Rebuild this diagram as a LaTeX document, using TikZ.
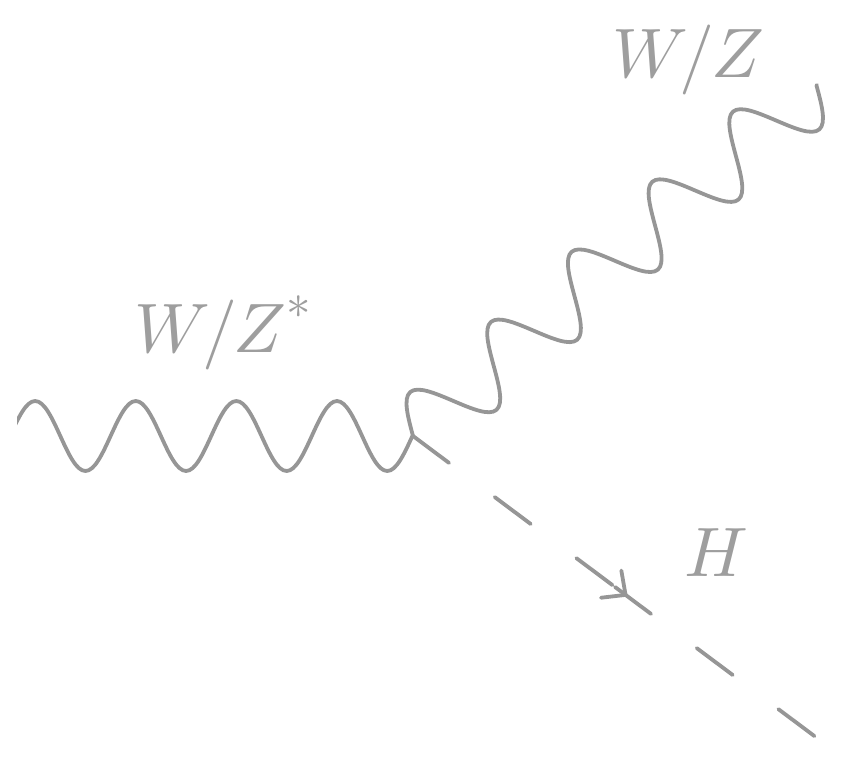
\documentclass[tikz,border=0pt]{standalone}
\usetikzlibrary{decorations,decorations.markings,arrows.meta}
\DeclareFontShape{OML}{cmm}{m}{it}{<->cmmi10}{}
\DeclareFontShape{OT1}{cmr}{m}{n}{<->cmr10}{}
\DeclareFontShape{OMS}{cmsy}{m}{n}{<->cmsy10}{}
\definecolor{lc}{RGB}{150,150,150}
\definecolor{tc}{RGB}{158,158,158}
\pgfdeclaredecoration{sinewave}{initial}{%
  \state{initial}[width=\pgfdecorationsegmentlength]{%
    \pgfpathlineto{\pgfpointorigin}%
    \pgfpathcurveto{\pgfpoint{.08152\pgfdecorationsegmentlength}{.5122\pgfdecorationsegmentamplitude}}%
                   {\pgfpoint{.15915\pgfdecorationsegmentlength}{\pgfdecorationsegmentamplitude}}%
                   {\pgfpoint{.25\pgfdecorationsegmentlength}{\pgfdecorationsegmentamplitude}}%
    \pgfpathcurveto{\pgfpoint{.34085\pgfdecorationsegmentlength}{\pgfdecorationsegmentamplitude}}%
                   {\pgfpoint{.41848\pgfdecorationsegmentlength}{.5122\pgfdecorationsegmentamplitude}}%
                   {\pgfpoint{.5\pgfdecorationsegmentlength}{0pt}}%
    \pgfpathcurveto{\pgfpoint{.58152\pgfdecorationsegmentlength}{-.5122\pgfdecorationsegmentamplitude}}%
                   {\pgfpoint{.65915\pgfdecorationsegmentlength}{-\pgfdecorationsegmentamplitude}}%
                   {\pgfpoint{.75\pgfdecorationsegmentlength}{-\pgfdecorationsegmentamplitude}}%
    \pgfpathcurveto{\pgfpoint{.84085\pgfdecorationsegmentlength}{-\pgfdecorationsegmentamplitude}}%
                   {\pgfpoint{.91848\pgfdecorationsegmentlength}{-.5122\pgfdecorationsegmentamplitude}}%
                   {\pgfpoint{\pgfdecorationsegmentlength}{0pt}}%
  }%
  \state{final}{\pgfpathlineto{\pgfpointdecoratedpathlast}}%
}
\tikzset{
 boson/.style={draw=lc, line width=3.8pt, line cap=round, line join=round, decorate, decoration={sinewave, amplitude=35pt, segment length=#1}},
 scalar/.style={draw=lc, line width=3.8pt, line cap=round, dash pattern=on 45pt off 57pt},
 lbl/.style={text=tc, inner sep=0pt, font=\fontsize{70}{80}\selectfont}
}
\begin{document}
\begin{tikzpicture}[x=1pt,y=-1pt]
\useasboundingbox (0,0) rectangle (846,763);
\coordinate (a) at (10,436);
\coordinate (v) at (413,436);
\coordinate (b) at (817,85);
\coordinate (m) at (615,587);
\coordinate (e) at (817,738);
\begin{scope}
\clip (17,0) rectangle (846,763);
\draw[boson=100.6pt] (a) -- (v);
\end{scope}
\draw[boson=106.9pt] (v) -- (b);
\draw[scalar] (v) -- (m);
\draw[scalar] (m) -- (e);
\path[decorate, decoration={markings, mark=at position 0.53 with {\arrow[lc, line width=3.8pt]{Straight Barb[length=18pt, width=34pt, round]}}}] (v) -- (e);
\node[lbl, anchor=base] (wz) at (688,77) {$W/Z$};
\node[lbl, anchor=base west] (wzs) at (134,352) {$W/Z^{\raisebox{8pt}{$\scriptstyle *$}}$};
\node[lbl, anchor=base west] (h) at (684,576) {$H$};
\end{tikzpicture}
\end{document}
